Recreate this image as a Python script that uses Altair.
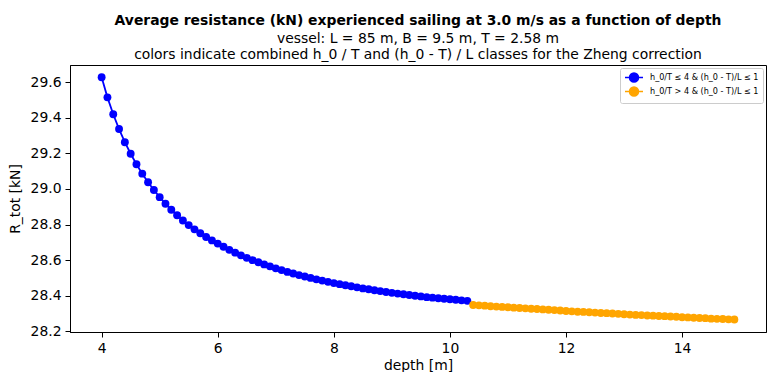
import altair as alt
import pandas as pd

# depth [m] for the two Zheng-correction classes
depth_a = [round(4.0 + 0.1 * i, 1) for i in range(64)]   # 4.0 .. 10.3
depth_b = [round(10.4 + 0.1 * i, 1) for i in range(46)]  # 10.4 .. 14.9

# average resistance R_tot [kN]
r_a = [29.628, 29.515, 29.420, 29.337, 29.263, 29.198, 29.139, 29.086, 29.038, 28.994,
       28.954, 28.917, 28.883, 28.852, 28.823, 28.797, 28.773, 28.751, 28.730, 28.711,
       28.693, 28.675, 28.658, 28.642, 28.627, 28.613, 28.600, 28.588, 28.576, 28.565,
       28.554, 28.544, 28.534, 28.525, 28.516, 28.508, 28.500, 28.492, 28.485, 28.478,
       28.471, 28.465, 28.459, 28.453, 28.447, 28.441, 28.436, 28.431, 28.426, 28.421,
       28.416, 28.412, 28.408, 28.404, 28.400, 28.396, 28.392, 28.389, 28.386, 28.383,
       28.380, 28.377, 28.374, 28.371]
r_b = [28.348, 28.346, 28.344, 28.341, 28.339, 28.337, 28.335, 28.333, 28.331, 28.329,
       28.327, 28.325, 28.323, 28.321, 28.319, 28.317, 28.314, 28.312, 28.310, 28.309,
       28.307, 28.305, 28.303, 28.302, 28.300, 28.298, 28.296, 28.294, 28.292, 28.291,
       28.289, 28.288, 28.286, 28.285, 28.283, 28.282, 28.279, 28.278, 28.276, 28.275,
       28.274, 28.271, 28.270, 28.269, 28.267, 28.266]

classes = ["h_0/T ≤ 4 & (h_0 - T)/L ≤ 1", "h_0/T > 4 & (h_0 - T)/L ≤ 1"]
colors = ["blue", "orange"]
x_ticks = [4, 6, 8, 10, 12, 14]
y_ticks = [28.2, 28.4, 28.6, 28.8, 29.0, 29.2, 29.4, 29.6]

df = pd.DataFrame({
    "depth": depth_a + depth_b,
    "R": r_a + r_b,
    "cls": [classes[0]] * len(depth_a) + [classes[1]] * len(depth_b),
})

FS = 13.9
sym = "M-2,0H2M-1,0A1,1 0 1,1 1,0A1,1 0 1,1 -1,0Z"
leg = alt.Legend(title=None, orient="top-right", symbolType=sym, symbolSize=81,
                 symbolStrokeWidth=1.5, symbolOffset=4.5, labelFontSize=8.1, offset=3,
                 padding=4, rowPadding=-1, labelOffset=10.5, strokeColor="#cccccc",
                 cornerRadius=2, fillColor="white", symbolOpacity=1)
scale = alt.Scale(domain=classes, range=colors)

x = alt.X("depth:Q", title="depth [m]",
          scale=alt.Scale(domain=[3.455, 15.445], nice=False, zero=False),
          axis=alt.Axis(values=x_ticks, format="d", titlePadding=4))
y = alt.Y("R:Q", title="R_tot [kN]",
          scale=alt.Scale(domain=[28.196, 29.697], nice=False, zero=False),
          axis=alt.Axis(values=y_ticks, format=".1f", titlePadding=8))

base = alt.Chart(df)
lines = base.mark_line(strokeWidth=1.8).encode(
    x=x, y=y, stroke=alt.Stroke("cls:N", scale=scale, legend=leg))
pts = base.mark_circle(size=62, opacity=1).encode(
    x=x, y=y, fill=alt.Fill("cls:N", scale=scale, legend=leg))

chart = alt.layer(lines, pts).properties(
    width=696, height=267,
    autosize=alt.AutoSizeParams(type="none"),
    padding={"left": 62, "top": 57, "right": 1, "bottom": 40},
    title=alt.Title(
        "Average resistance (kN) experienced sailing at 3.0 m/s as a function of depth",
        subtitle=["vessel: L = 85 m, B = 9.5 m, T = 2.58 m",
                  "colors indicate combined h_0 / T and (h_0 - T) / L classes for the Zheng correction"],
        anchor="middle", frame="group", fontSize=FS, fontWeight="bold", color="black",
        subtitleFontSize=FS, subtitleColor="black", subtitleLineHeight=16.5,
        subtitlePadding=4, offset=3, font="DejaVu Sans", subtitleFont="DejaVu Sans"),
).configure(font="DejaVu Sans").configure_view(
    stroke="black", strokeWidth=1
).configure_axis(
    grid=False, domainColor="black", tickColor="black", labelColor="black",
    titleColor="black", labelFontSize=FS, titleFontSize=FS,
    titleFontWeight="normal", tickSize=5, labelPadding=4, domainWidth=1, tickWidth=1,
    labelFont="DejaVu Sans", titleFont="DejaVu Sans"
).configure_legend(labelColor="black", labelFont="DejaVu Sans")

chart.save("out.html", embed_options={"renderer": "svg", "actions": False})
